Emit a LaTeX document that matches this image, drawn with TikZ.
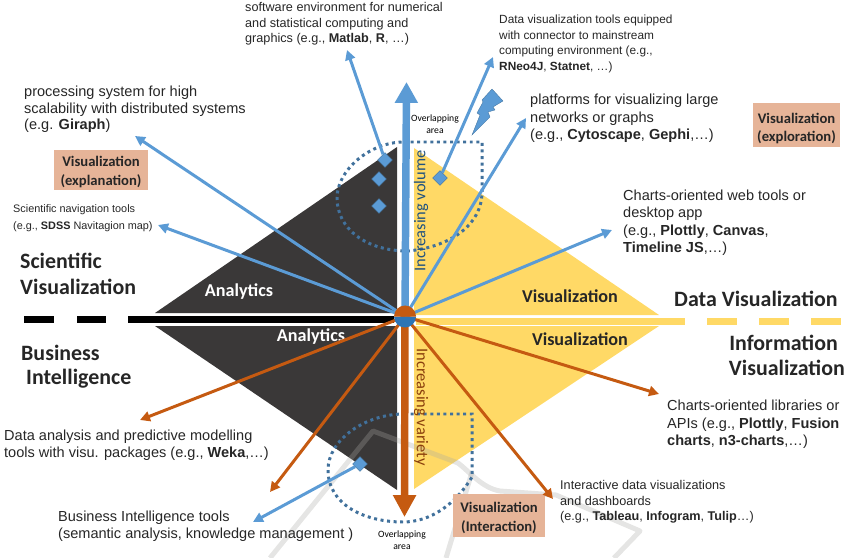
\documentclass[tikz,border=0pt]{standalone}
\usepackage{fontspec}
\setmainfont{Liberation Sans}
\newfontfamily\carl{Carlito}
\usetikzlibrary{arrows.meta,calc,shapes.geometric}
\definecolor{bluea}{HTML}{5B9BD5}
\definecolor{blued}{HTML}{2E75B6}
\definecolor{dots}{HTML}{41719C}
\definecolor{oran}{HTML}{C55A11}
\definecolor{yel}{HTML}{FFD966}
\definecolor{blk}{HTML}{3A3838}
\definecolor{boxc}{HTML}{E6B498}
\definecolor{txt}{HTML}{262626}
\definecolor{wm}{HTML}{A8A8A4}
\tikzset{
 bluearrow/.style={draw=bluea,line width=3pt,-{Triangle[length=10pt,width=10pt]}},
 orarrow/.style={draw=oran,line width=3pt,-{Triangle[length=10pt,width=10pt]}},
 dotline/.style={draw=dots,line width=3pt,dash pattern=on 3pt off 3.6pt},
 lab/.style={align=left,anchor=north west,inner sep=0pt,text=txt},
 laba/.style={lab,font=\fontsize{14.6}{17.6}\selectfont},
 labb/.style={lab,font=\fontsize{14.6}{16.5}\selectfont},
 labc/.style={lab,font=\fontsize{12.7}{15.7}\selectfont},
 labd/.style={lab,font=\fontsize{11.9}{15.6}\selectfont},
 labe/.style={lab,font=\fontsize{10.9}{18}\selectfont},
 viz/.style={fill=boxc,font=\carl\bfseries\fontsize{14.7}{18.5}\selectfont,align=center,inner sep=0pt,text=black!85},
 big/.style={font=\carl\bfseries\fontsize{22}{26}\selectfont,align=center,inner sep=0pt,text=txt},
 tri/.style={font=\carl\bfseries\fontsize{18.2}{20}\selectfont,inner sep=0pt},
 dia/.style={fill=bluea,draw=dots,line width=.3pt,shape=diamond,minimum size=15pt,inner sep=0pt},
 over/.style={font=\carl\fontsize{9.7}{12}\selectfont,align=center,inner sep=0pt,text=black},
 side/.style={font=\carl\fontsize{16.5}{18}\selectfont,inner sep=0pt},
 wmark/.style={draw=wm,line width=5pt,line join=round,draw opacity=.3},
}
\begin{document}
\begin{tikzpicture}[x=1bp,y=-1bp]
\useasboundingbox (0,0) rectangle (868,558);
% triangles
\fill[blk] (155,313) -- (397,147) -- (397,313) -- cycle;
\fill[blk] (155,326) -- (397,326) -- (397,490) -- cycle;
\fill[yel] (414,148) -- (659,315) -- (414,315) -- cycle;
\fill[yel] (414,326) -- (659,326) -- (414,489) -- cycle;
% horizontal
\fill[black] (128,316) rectangle (394,323);
\fill[black] (24,316) rectangle (54,323);
\fill[black] (77,316) rectangle (106,323);
\fill[yel] (416,318) rectangle (685,325);
\fill[yel] (707,318) rectangle (737,325);
\fill[yel] (759,318) rectangle (789,325);
\fill[yel] (811,318) rectangle (841,325);
% watermark
\draw[wmark] (270,558) -- (373,431) -- (458,463) .. controls (470,472) and (482,488) .. (500,491) -- (556,495) -- (640,531) -- (614,558);
\draw[wmark] (472,472) -- (446,558);
% dotted
\draw[dotline] (404,142) -- (482,142) -- (482,192) .. controls (482,225) and (450,247) .. (408,251) .. controls (365,251) and (337,228) .. (337,198) .. controls (337,170) and (370,142) .. (404,142);
\draw[dotline] (404,414) -- (472,414) -- (472,477) .. controls (455,505) and (430,522) .. (403,522) .. controls (365,522) and (328,505) .. (328,470) .. controls (328,440) and (365,414) .. (404,414);
\coordinate (c) at (405,316.5);
% text nodes
\node[labc] (t1) at (245,2) {software environment for numerical\\and statistical computing and\\graphics (e.g., \textbf{Matlab}, \textbf{R}, \ldots)};
\node[labd] (t2) at (499,15) {Data visualization tools equipped\\with connector to mainstream\\computing environment (e.g.,\\\textbf{RNeo4J}, \textbf{Statnet}, \ldots)};
\node[laba] (t3) at (530,94) {platforms for visualizing large\\networks or graphs\\(e.g., \textbf{Cytoscape}, \textbf{Gephi},\ldots)};
\node[labb] (t4) at (24,86) {processing system for high\\scalability with distributed systems\\(e.g. \textbf{Giraph})};
\node[labe] (t5) at (13,204) {Scientific navigation tools\\(e.g., \textbf{SDSS} Navitagion map)};
\node[laba] (t6) at (623,189.5) {Charts-oriented web tools or\\desktop app\\(e.g., \textbf{Plottly}, \textbf{Canvas},\\\textbf{Timeline JS},\ldots)};
\node[laba] (t7) at (667,400) {Charts-oriented libraries or\\APIs (e.g., \textbf{Plottly}, \textbf{Fusion}\\\textbf{charts}, \textbf{n3-charts},\ldots)};
\node[labc] (t8) at (560,480) {Interactive data visualizations\\and dashboards\\(e.g., \textbf{Tableau}, \textbf{Infogram}, \textbf{Tulip}\ldots)};
\node[labb] (t9) at (4,430) {Data analysis and predictive modelling\\tools  with visu. packages (e.g., \textbf{Weka},\ldots)};
\node[labb] (t10) at (58,511) {Business Intelligence tools\\(semantic analysis, knowledge management )};
% viz boxes
\node[viz,minimum width=94pt,minimum height=40pt] (v1) at (101,170) {\rule{0pt}{14pt}Visualization\\(explanation)};
\node[viz,minimum width=87pt,minimum height=44pt] (v2) at (796.5,125) {\rule{0pt}{17pt}Visualization\\(exploration)};
\node[viz,minimum width=92pt,minimum height=43pt] (v3) at (499,515.5) {\rule{0pt}{15pt}Visualization\\(Interaction)};
% big labels
\node[big,anchor=west] (b1) at (20,261) {Scientific};
\node[big,anchor=west] (b2) at (20,287) {Visualization};
\node[big,anchor=west] (b3) at (21,353) {Business};
\node[big,anchor=west] (b4) at (26,379) {Intelligence};
\node[big,anchor=west] (b5) at (674,299) {Data Visualization};
\node[big,anchor=east] (b6) at (838,343) {Information};
\node[big,anchor=east] (b7) at (845,368) {Visualization};
% triangle labels
\node[tri,text=white] (a1) at (239,292) {Analytics};
\node[tri,text=white] (a2) at (311,337) {Analytics};
\node[tri,text=black!85] (a3) at (570,296) {Visualization};
\node[tri,text=black!85] (a4) at (580,339) {Visualization};
% diamonds
\node[dia] (d1) at (385,160) {};
\node[dia] (d2) at (379,179) {};
\node[dia] (d3) at (379,206) {};
\node[dia] (d4) at (440,178) {};
\node[dia] (d5) at (360,464) {};
% lightning
\fill[bluea,draw=dots,line width=.3pt] (472,135) -- (480,115) -- (477,113) -- (483,102) -- (482,100) -- (492,89) -- (503,101) -- (493,107) -- (495,110) -- (488,112) -- (490,117) -- cycle;
% arrows
\coordinate (e1) at (135,136);
\coordinate (e2) at (158,225);
\coordinate (e3) at (347,50);
\coordinate (e4) at (493,57);
\coordinate (e5) at (526,118);
\coordinate (e6) at (612,230);
\coordinate (e7) at (659,394);
\coordinate (e8) at (553,499);
\coordinate (e9) at (270,492);
\coordinate (e10) at (140,420);
\coordinate (e11) at (253,522);
\draw[bluearrow] (c) -- (e1);
\draw[bluearrow] (c) -- (e2);
\draw[bluearrow] (d1) -- (e3);
\draw[bluearrow] (d4) -- (e4);
\draw[bluearrow] (c) -- (e5);
\draw[bluearrow] (c) -- (e6);
\draw[orarrow] (c) -- (e7);
\draw[orarrow] (c) -- (e8);
\draw[orarrow] (c) -- (e9);
\draw[orarrow] (c) -- (e10);
\draw[bluearrow] (d5) -- (e11);
% main arrows
\coordinate (up) at (406.5,82);
\coordinate (dn) at (404.5,517);
\draw[draw=bluea,line width=7.5pt,-{Triangle[length=21pt,width=22pt]}] (c) -- (up);
\draw[draw=oran,line width=7.5pt,-{Triangle[length=22pt,width=22pt]}] (c) -- (dn);
% hub
\fill[blued] (394,316.5) arc (180:0:11) -- cycle;
\fill[oran] (394,316.5) arc (-180:0:11) -- cycle;
% side labels
\node[side,text=blued!70!black,rotate=90,anchor=center] (s1) at (421,211) {Increasing volume};
\node[side,text=oran!70!black,rotate=-90,anchor=center] (s2) at (421,407) {Increasing variety};
% overlapping
\node[over] (o1) at (435,124) {Overlapping\\area};
\node[over] (o2) at (402,540) {Overlapping\\area};
\end{tikzpicture}
\end{document}
